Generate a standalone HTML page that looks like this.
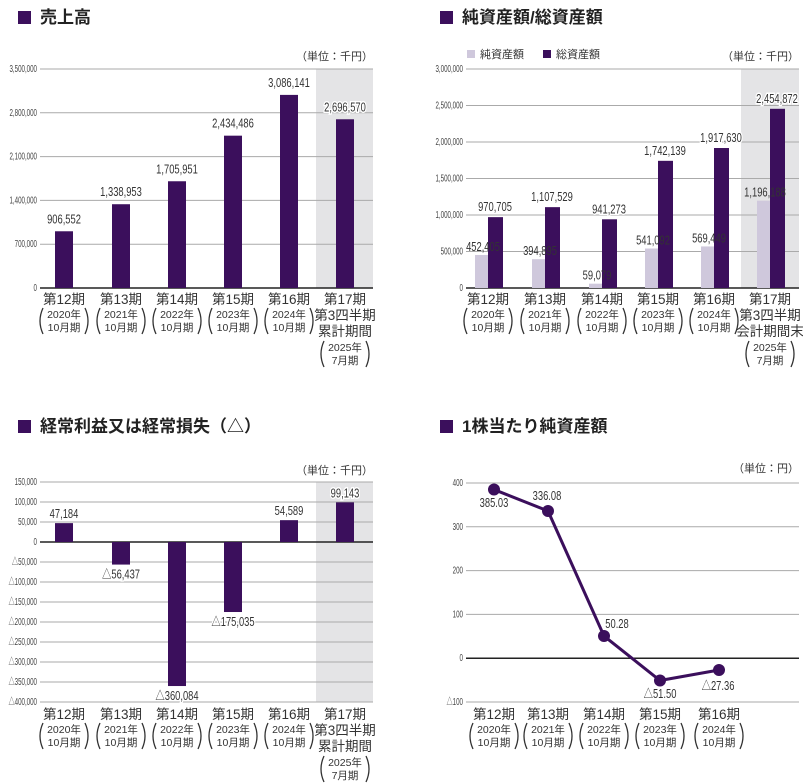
<!DOCTYPE html>
<html><head><meta charset="utf-8"><style>
html,body{margin:0;padding:0;background:#fff;}
svg{display:block;}
text{font-family:"Liberation Sans","Noto Sans CJK JP",sans-serif;}
.t{font-size:17px;font-weight:bold;fill:#222;}
.tk{font-size:10px;fill:#444;text-anchor:end;}
.u{font-size:11px;fill:#333;text-anchor:end;}
.v{font-size:12.5px;fill:#333;text-anchor:middle;stroke:#fff;stroke-width:3px;paint-order:stroke;}
.x1{font-size:13.5px;fill:#333;text-anchor:middle;}
.x2{font-size:10.5px;fill:#333;text-anchor:middle;}
</style></head><body>
<svg id="s" width="803" height="783" xmlns="http://www.w3.org/2000/svg"></svg>
<script>
var S=document.getElementById('s'),h='';
var C='#3b0f5c',L='#cfc8dc',G='#e4e4e6';
function T(x,y,c,s,extra){h+='<text x="'+x+'" y="'+y+'" class="'+c+'" '+(extra||'')+'>'+s+'</text>';}
function N(x,y,c,s,sx,extra){h+='<text transform="translate('+x+','+y+') scale('+sx+',1)" class="'+c+'" '+(extra||'')+'>'+s+'</text>';}
function R(x,y,w,hh,f){h+='<rect x="'+x+'" y="'+y+'" width="'+w+'" height="'+hh+'" fill="'+f+'"/>';}
function Ln(x1,y1,x2,y2,c,w){h+='<line x1="'+x1+'" y1="'+y1+'" x2="'+x2+'" y2="'+y2+'" stroke="'+c+'" stroke-width="'+(w||1)+'"/>';}
function par(c,yt,yb){
 var m=(yt+yb)/2;
 h+='<path d="M'+(c-21)+','+yt+' Q'+(c-27)+','+m+' '+(c-21)+','+yb+'" fill="none" stroke="#333" stroke-width="1.3"/>';
 h+='<path d="M'+(c+21)+','+yt+' Q'+(c+27)+','+m+' '+(c+21)+','+yb+'" fill="none" stroke="#333" stroke-width="1.3"/>';
}
function title(x,y,s){R(x,y-12,13,13,C);T(x+22,y,'t',s);}
function xlabels(cx,y0,yrs,last,lastLines){
 for(var i=0;i<cx.length;i++){
  var c=cx[i];
  if(last&&i==cx.length-1){
   T(c,y0,'x1','第17期');
   T(c,y0+16,'x1',lastLines[0]);T(c,y0+32,'x1',lastLines[1]);
   T(c,y0+47,'x2','2025年');T(c,y0+60,'x2','7月期');
   par(c,y0+37,y0+63);
  }else{
   T(c,y0,'x1','第'+(12+i)+'期');
   T(c,y0+14,'x2',yrs[i]+'年');T(c,y0+27,'x2','10月期');
   par(c,y0+4,y0+30);
  }
 }
}
var yrs=[2020,2021,2022,2023,2024];
function tk(x,y,s){N(x,y,'tk',s,0.62);}
function V(x,y,s,extra){N(x,y,'v',s,0.75,extra);}
// Chart 1
title(18,23,'売上高');
R(316,69,57,219,G);
var t1=['3,500,000','2,800,000','2,100,000','1,400,000','700,000','0'];
for(var i=0;i<6;i++){var y=69+i*43.8;Ln(40,y,373,y,i==5?'#222':'#aaa',i==5?1.5:1);tk(37,y+3,t1[i]);}
T(373,60,'u','（単位：千円）');
var cx1=[64,121,177,233,289,345],v1=[906552,1338953,1705951,2434486,3086141,2696570];
for(var i=0;i<6;i++){var y=288-v1[i]/3500000*219;R(cx1[i]-9,y,18,288-y,C);V(cx1[i],y-8,v1[i].toLocaleString('en-US'));}
xlabels(cx1,304,yrs,true,['第3四半期','累計期間']);
// Chart 2
title(440,23,'純資産額/総資産額');
R(741,69,58,219,G);
var t2=['3,000,000','2,500,000','2,000,000','1,500,000','1,000,000','500,000','0'];
for(var i=0;i<7;i++){var y=69+i*36.5;Ln(466,y,799,y,i==6?'#222':'#aaa',i==6?1.5:1);tk(463,y+3,t2[i]);}
R(467,50,8,8,L);T(480,58,'u','純資産額','style="text-anchor:start"');
R(543,50,8,8,C);T(556,58,'u','総資産額','style="text-anchor:start"');
T(799,60,'u','（単位：千円）');
var cx2=[488,545,602,658,714,770],a=[452405,394895,59079,541092,569449,1196188],b=[970705,1107529,941273,1742139,1917630,2454872];
for(var i=0;i<6;i++){var y=288-a[i]/3000000*219;R(cx2[i]-13,y,13,288-y,L);}
for(var i=0;i<6;i++){var y=288-b[i]/3000000*219;R(cx2[i],y,15,288-y,C);V(cx2[i]+7,y-6,b[i].toLocaleString('en-US'));}
for(var i=0;i<6;i++){var y=288-a[i]/3000000*219;V(cx2[i]-5,y-4,a[i].toLocaleString('en-US'),'style="stroke-width:0"');}
xlabels(cx2,304,yrs,true,['第3四半期','会計期間末']);
// Chart 3
title(18,432,'経常利益又は経常損失（△）');
R(316,482,57,220,G);
for(var i=0;i<12;i++){var val=150000-i*50000,y=482+i*20;
 var s=val<0?'△'+(-val).toLocaleString('en-US'):val.toLocaleString('en-US');
 Ln(40,y,373,y,val==0?'#222':'#aaa',val==0?1.5:1);tk(37,y+3,s);}
T(373,474,'u','（単位：千円）');
var v3=[47184,-56437,-360084,-175035,54589,99143];
for(var i=0;i<6;i++){var y=542-v3[i]/50000*20;
 if(v3[i]>0){R(cx1[i]-9,y,18,542-y,C);V(cx1[i],y-5,v3[i].toLocaleString('en-US'));}
 else{R(cx1[i]-9,542,18,y-542,C);V(cx1[i],y+14,'△'+(-v3[i]).toLocaleString('en-US'));}}
xlabels(cx1,719,yrs,true,['第3四半期','累計期間']);
// Chart 4
title(440,432,'1株当たり純資産額');
var t4=['400','300','200','100','0','△100'];
for(var i=0;i<6;i++){var y=483+i*43.8;Ln(466,y,799,y,i==4?'#222':'#aaa',i==4?1.5:1);tk(463,y+3,t4[i]);}
T(799,472,'u','（単位：円）');
var px=[494,548,604,660,719],pv=[385.03,336.08,50.28,-51.5,-27.36],pts=[];
for(var i=0;i<5;i++)pts.push(px[i]+','+(658-pv[i]*0.4375));
h+='<polyline points="'+pts.join(' ')+'" fill="none" stroke="'+C+'" stroke-width="3"/>';
for(var i=0;i<5;i++)h+='<circle cx="'+px[i]+'" cy="'+(658-pv[i]*0.4375)+'" r="6" fill="'+C+'"/>';
V(494,507,'385.03');V(547,500,'336.08');V(617,628,'50.28');V(660,698,'△51.50');V(718,690,'△27.36');
xlabels(px,719,yrs,false);
S.innerHTML=h;
</script>
</body></html>
